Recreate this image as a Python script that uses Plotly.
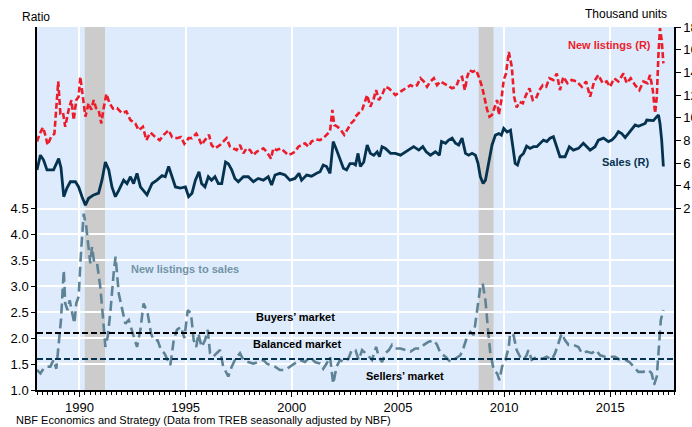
import plotly.graph_objects as go

# ---------------- data ----------------
sales_x = [1988.00, 1988.16, 1988.31, 1988.47, 1988.78, 1989.02, 1989.13, 1989.26, 1989.41, 1989.57,
           1989.81, 1989.96, 1990.12, 1990.28, 1990.43, 1990.67, 1990.90, 1991.06, 1991.22, 1991.38,
           1991.53, 1991.69, 1991.85, 1992.08, 1992.24, 1992.40, 1992.55, 1992.71, 1992.87, 1993.02,
           1993.18, 1993.42, 1993.65, 1993.89, 1994.04, 1994.20, 1994.36, 1994.52, 1994.75, 1994.99,
           1995.14, 1995.30, 1995.46, 1995.63, 1995.75, 1995.91, 1996.07, 1996.22, 1996.38, 1996.54,
           1996.70, 1996.88, 1997.01, 1997.17, 1997.32, 1997.48, 1997.72, 1997.95, 1998.19, 1998.42,
           1998.66, 1998.89, 1999.05, 1999.21, 1999.44, 1999.68, 1999.91, 2000.15, 2000.34, 2000.46,
           2000.70, 2000.93, 2001.17, 2001.33, 2001.48, 2001.64, 2001.80, 2001.95, 2002.11, 2002.27,
           2002.43, 2002.58, 2002.74, 2002.90, 2003.00, 2003.12, 2003.23, 2003.39, 2003.55, 2003.70,
           2003.86, 2004.02, 2004.13, 2004.25, 2004.41, 2004.65, 2004.88, 2005.12, 2005.35, 2005.59,
           2005.74, 2005.98, 2006.17, 2006.33, 2006.53, 2006.76, 2006.95, 2007.05, 2007.24, 2007.39,
           2007.55, 2007.71, 2007.86, 2008.02, 2008.18, 2008.33, 2008.49, 2008.65, 2008.77, 2008.88,
           2009.01, 2009.12, 2009.28, 2009.43, 2009.59, 2009.75, 2009.87, 2009.98, 2010.14, 2010.30,
           2010.41, 2010.52, 2010.63, 2010.75, 2010.91, 2011.06, 2011.22, 2011.38, 2011.54, 2011.69,
           2011.85, 2012.01, 2012.16, 2012.32, 2012.48, 2012.63, 2012.87, 2013.07, 2013.26, 2013.50,
           2013.73, 2013.89, 2014.05, 2014.28, 2014.44, 2014.68, 2014.91, 2015.07, 2015.23, 2015.38,
           2015.54, 2015.70, 2015.85, 2016.01, 2016.17, 2016.32, 2016.48, 2016.64, 2016.72, 2016.87,
           2017.03, 2017.19, 2017.27, 2017.34, 2017.42, 2017.50]
sales_y = [5.4, 6.7, 6.27, 5.4, 5.4, 6.4, 5.6, 3.04, 3.8, 4.36,
           4.36, 3.9, 3.04, 2.3, 2.9, 3.2, 3.35, 4.5, 6.1, 5.4,
           3.9, 3.04, 3.6, 4.5, 4.2, 4.8, 4.2, 5.1, 3.9, 3.6,
           3.2, 4.2, 4.5, 4.9, 4.8, 5.7, 4.8, 3.9, 3.8, 3.9,
           3.04, 3.35, 4.5, 5.24, 4.2, 3.9, 4.8, 4.5, 4.8, 4.2,
           4.2, 6.1, 5.95, 5.4, 4.65, 4.36, 4.8, 4.8, 4.36, 4.65,
           4.5, 4.8, 4.07, 4.95, 5.1, 4.95, 4.5, 4.65, 5.1, 4.5,
           4.95, 4.85, 5.1, 5.24, 5.83, 5.7, 5.1, 7.9, 7.15, 6.27,
           5.55, 5.4, 5.95, 5.95, 5.83, 6.86, 5.7, 6.1, 7.6, 6.86,
           6.7, 7.0, 6.56, 7.45, 7.3, 6.86, 6.86, 6.7, 7.0, 7.3,
           7.45, 7.15, 7.45, 7.0, 6.7, 7.0, 6.7, 7.9, 7.75, 8.03,
           8.2, 7.75, 7.6, 8.2, 6.86, 6.7, 6.86, 6.7, 5.98, 4.8,
           4.2, 4.5, 5.98, 7.6, 8.47, 8.6, 8.47, 9.06, 8.75, 8.9,
           7.45, 5.98, 5.83, 6.56, 6.86, 7.5, 7.3, 7.45, 7.45, 7.75,
           8.03, 7.9, 8.2, 8.33, 7.45, 6.56, 6.56, 7.45, 7.15, 7.3,
           7.75, 7.45, 7.15, 7.45, 8.03, 8.2, 7.9, 8.03, 8.33, 8.77,
           8.6, 8.25, 8.6, 8.9, 9.36, 9.25, 9.36, 9.5, 9.8, 9.8,
           9.75, 10.1, 10.25, 9.5, 8.03, 5.7]

listings_x = [1988.00, 1988.13, 1988.28, 1988.39, 1988.50, 1988.66, 1988.82, 1988.91, 1989.00, 1989.10,
              1989.22, 1989.33, 1989.49, 1989.62, 1989.73, 1989.85, 1989.96, 1990.04, 1990.17, 1990.28,
              1990.43, 1990.56, 1990.67, 1990.78, 1990.90, 1991.03, 1991.14, 1991.27, 1991.42, 1991.58,
              1991.77, 1992.00, 1992.21, 1992.40, 1992.63, 1992.79, 1992.99, 1993.15, 1993.34, 1993.57,
              1993.78, 1993.97, 1994.20, 1994.36, 1994.59, 1994.78, 1994.94, 1995.14, 1995.30, 1995.50,
              1995.60, 1995.75, 1995.91, 1996.10, 1996.22, 1996.38, 1996.62, 1996.77, 1996.93, 1997.09,
              1997.25, 1997.40, 1997.56, 1997.72, 1997.87, 1998.03, 1998.19, 1998.34, 1998.50, 1998.66,
              1998.82, 1999.02, 1999.13, 1999.29, 1999.49, 1999.68, 1999.84, 2000.02, 2000.15, 2000.31,
              2000.46, 2000.62, 2000.78, 2000.93, 2001.12, 2001.33, 2001.48, 2001.64, 2001.80, 2001.91,
              2002.00, 2002.16, 2002.32, 2002.47, 2002.63, 2002.79, 2002.94, 2003.00, 2003.15, 2003.31,
              2003.47, 2003.55, 2003.70, 2003.86, 2003.97, 2004.10, 2004.25, 2004.41, 2004.57, 2004.72,
              2004.88, 2005.12, 2005.35, 2005.59, 2005.74, 2005.90, 2006.06, 2006.22, 2006.37, 2006.53,
              2006.69, 2006.84, 2007.00, 2007.16, 2007.31, 2007.55, 2007.74, 2007.89, 2008.02, 2008.15,
              2008.26, 2008.37, 2008.52, 2008.68, 2008.81, 2008.96, 2009.09, 2009.20, 2009.31, 2009.43,
              2009.56, 2009.67, 2009.75, 2009.87, 2009.98, 2010.09, 2010.22, 2010.36, 2010.47, 2010.59,
              2010.72, 2010.88, 2011.03, 2011.19, 2011.35, 2011.50, 2011.66, 2011.82, 2011.98, 2012.13,
              2012.32, 2012.48, 2012.63, 2012.79, 2012.98, 2013.18, 2013.42, 2013.66, 2013.86, 2014.05,
              2014.24, 2014.44, 2014.64, 2014.83, 2014.99, 2015.18, 2015.38, 2015.62, 2015.77, 2015.96,
              2016.17, 2016.37, 2016.56, 2016.75, 2016.87, 2017.00, 2017.11, 2017.19, 2017.27, 2017.34,
              2017.42, 2017.50]
listings_y = [7.9, 8.6, 9.15, 8.5, 7.6, 8.3, 8.6, 10.7, 13.2, 10.4,
              10.5, 9.2, 10.7, 11.56, 9.8, 11.56, 11.85, 13.6, 11.56, 10.1,
              11.27, 10.7, 11.56, 10.85, 10.7, 9.5, 10.85, 12.1, 11.27, 10.8,
              10.85, 10.4, 10.55, 9.8, 9.5, 8.9, 9.2, 8.03, 8.7, 8.3,
              8.03, 8.5, 8.9, 8.3, 8.2, 8.3, 7.7, 8.2, 8.2, 8.6,
              8.3, 7.6, 8.03, 8.5, 7.6, 7.3, 7.6, 7.9, 8.2, 7.45,
              7.3, 7.15, 7.6, 6.86, 7.3, 7.15, 6.7, 7.0, 7.15, 7.3,
              7.0, 6.4, 7.3, 7.15, 7.3, 7.0, 6.7, 6.86, 7.0, 7.45,
              7.6, 7.75, 7.45, 7.9, 8.1, 8.03, 8.2, 8.5, 8.8, 10.7,
              9.36, 9.2, 8.9, 8.5, 9.06, 9.5, 9.8, 10.1, 10.4, 10.7,
              11.56, 12.0, 10.97, 11.7, 12.44, 11.56, 12.0, 12.73, 12.6, 12.3,
              12.0, 12.3, 12.6, 12.87, 12.73, 12.87, 13.48, 13.2, 12.73, 13.2,
              13.48, 12.87, 13.2, 13.05, 12.87, 12.6, 12.73, 13.48, 13.6, 12.44,
              13.6, 14.2, 14.05, 14.2, 13.6, 12.73, 11.56, 10.7, 10.1, 10.25,
              10.97, 11.56, 10.25, 11.56, 13.33, 13.9, 15.8, 14.5, 11.85, 10.9,
              11.4, 11.27, 12.0, 12.6, 11.56, 11.7, 12.44, 12.87, 12.73, 13.48,
              13.33, 13.9, 12.44, 13.6, 13.05, 13.33, 13.2, 12.73, 13.2, 11.85,
              13.2, 13.77, 13.05, 13.2, 12.73, 13.48, 13.2, 13.9, 13.05, 13.48,
              12.87, 12.44, 13.2, 13.05, 13.77, 12.44, 10.4, 11.85, 15.7, 17.9,
              16.85, 14.8]

ratio_x = [1988.00, 1988.16, 1988.31, 1988.47, 1988.63, 1988.78, 1988.91, 1989.02, 1989.13, 1989.26,
           1989.33, 1989.44, 1989.54, 1989.65, 1989.76, 1989.85, 1989.96, 1990.07, 1990.20, 1990.32,
           1990.43, 1990.51, 1990.59, 1990.70, 1990.83, 1990.98, 1991.09, 1991.22, 1991.33, 1991.45,
           1991.61, 1991.70, 1991.85, 1992.00, 1992.16, 1992.32, 1992.47, 1992.71, 1992.87, 1993.02,
           1993.21, 1993.37, 1993.49, 1993.68, 1993.84, 1994.00, 1994.15, 1994.28, 1994.44, 1994.59,
           1994.78, 1994.94, 1995.10, 1995.25, 1995.38, 1995.50, 1995.60, 1995.75, 1995.91, 1996.04,
           1996.15, 1996.30, 1996.46, 1996.62, 1996.77, 1997.01, 1997.17, 1997.32, 1997.56, 1997.72,
           1997.95, 1998.19, 1998.42, 1998.66, 1998.82, 1998.97, 1999.21, 1999.44, 1999.68, 1999.91,
           2000.15, 2000.38, 2000.62, 2000.86, 2001.09, 2001.33, 2001.48, 2001.64, 2001.80, 2001.95,
           2002.11, 2002.27, 2002.43, 2002.66, 2002.82, 2003.00, 2003.15, 2003.31, 2003.47, 2003.62,
           2003.78, 2003.97, 2004.10, 2004.25, 2004.41, 2004.57, 2004.72, 2004.88, 2005.12, 2005.35,
           2005.59, 2005.82, 2006.06, 2006.22, 2006.45, 2006.69, 2006.84, 2007.00, 2007.24, 2007.47,
           2007.71, 2007.94, 2008.10, 2008.26, 2008.41, 2008.57, 2008.73, 2008.88, 2008.99, 2009.12,
           2009.24, 2009.35, 2009.51, 2009.67, 2009.78, 2009.90, 2010.06, 2010.22, 2010.28, 2010.44,
           2010.59, 2010.75, 2010.91, 2011.06, 2011.14, 2011.30, 2011.54, 2011.77, 2012.01, 2012.24,
           2012.40, 2012.56, 2012.71, 2012.87, 2013.03, 2013.26, 2013.50, 2013.66, 2013.89, 2014.13,
           2014.33, 2014.52, 2014.75, 2014.99, 2015.23, 2015.46, 2015.70, 2015.90, 2016.09, 2016.32,
           2016.56, 2016.80, 2016.95, 2017.06, 2017.19, 2017.30, 2017.38, 2017.50]
ratio_y = [1.385, 1.32, 1.41, 1.45, 1.45, 1.58, 1.41, 1.9, 2.35, 3.31,
           2.67, 2.54, 2.73, 2.5, 2.28, 2.67, 2.8, 3.63, 4.4, 4.15,
           3.76, 3.44, 3.76, 3.44, 3.44, 2.99, 2.48, 1.83, 2.03, 2.48,
           3.25, 3.57, 2.86, 2.6, 2.28, 2.35, 2.16, 1.83, 2.16, 2.67,
           2.48, 2.09, 1.96, 1.96, 1.77, 1.71, 1.58, 1.48, 1.96, 2.16,
           2.22, 2.0, 2.54, 2.48, 1.96, 1.83, 2.09, 1.83, 1.96, 2.16,
           1.71, 1.64, 1.71, 1.77, 1.45, 1.26, 1.45, 1.58, 1.71, 1.58,
           1.54, 1.51, 1.54, 1.58, 1.51, 1.48, 1.45, 1.385, 1.385, 1.45,
           1.51, 1.58, 1.54, 1.64, 1.54, 1.51, 1.41, 1.51, 1.64, 1.12,
           1.45, 1.58, 1.54, 1.6, 1.77, 1.77, 1.58, 1.77, 1.71, 1.64,
           1.58, 1.83, 1.64, 1.54, 1.71, 1.77, 1.87, 1.8, 1.8, 1.77,
           1.74, 1.8, 1.8, 1.87, 1.93, 1.96, 1.87, 1.71, 1.64, 1.54,
           1.6, 1.67, 1.83, 2.03, 2.12, 2.06, 2.54, 2.99, 3.05, 2.73,
           2.16, 1.71, 1.385, 1.32, 1.19, 1.45, 1.58, 1.83, 2.09, 2.06,
           1.77, 1.64, 1.58, 1.67, 1.77, 1.58, 1.64, 1.6, 1.64, 1.58,
           1.71, 1.9, 2.09, 1.96, 1.87, 1.87, 1.83, 1.71, 1.74, 1.71,
           1.77, 1.67, 1.64, 1.64, 1.64, 1.58, 1.58, 1.54, 1.45, 1.35,
           1.35, 1.385, 1.32, 1.1, 1.26, 1.96, 2.35, 2.54]

recessions = [(1990.25, 1991.2), (2008.8, 2009.5)]
buyers_level = 2.1
sellers_level = 1.6

left_ticks = [1.0, 1.5, 2.0, 2.5, 3.0, 3.5, 4.0, 4.5]
right_ticks = [2, 4, 6, 8, 10, 12, 14, 16, 18]
year_ticks = [1990, 1995, 2000, 2005, 2010, 2015]

# ---------------- styles ----------------
FONT = "Liberation Sans, Arial, sans-serif"
RED = "#EC1C2A"
NAVY = "#05334F"
SLATE = "#5F8396"
BG = "#DDEBFC"

fig = go.Figure()

fig.add_trace(go.Scatter(x=listings_x, y=listings_y, yaxis="y2", mode="lines",
                         line=dict(color=RED, width=2.6, dash="6px,3px"), name="New listings (R)"))
fig.add_trace(go.Scatter(x=sales_x, y=sales_y, yaxis="y2", mode="lines",
                         line=dict(color=NAVY, width=2.8), name="Sales (R)"))
fig.add_trace(go.Scatter(x=ratio_x, y=ratio_y, yaxis="y", mode="lines",
                         line=dict(color=SLATE, width=2.6, dash="10px,5px"), name="New listings to sales"))

shapes = []
for x0, x1 in recessions:
    shapes.append(dict(type="rect", xref="x", yref="paper", x0=x0, x1=x1, y0=0, y1=1,
                       fillcolor="#CCCCCC", line=dict(width=0), layer="between"))
shapes.append(dict(type="line", xref="paper", yref="y", x0=0, x1=1, y0=buyers_level, y1=buyers_level,
                   line=dict(color="black", width=2, dash="6px,3px"), layer="above"))
shapes.append(dict(type="line", xref="paper", yref="y", x0=0, x1=1, y0=sellers_level, y1=sellers_level,
                   line=dict(color=NAVY, width=2, dash="6px,3px"), layer="above"))

annotations = [
    dict(text="Ratio", xref="paper", yref="paper", x=-0.027, y=1.028, xanchor="left", yanchor="middle",
         showarrow=False, font=dict(size=12, color="black")),
    dict(text="Thousand units", xref="paper", yref="paper", x=0.9925, y=1.036, xanchor="right", yanchor="middle",
         showarrow=False, font=dict(size=12, color="black")),
    dict(text="<b>New listings (R)</b>", x=2012.9, y=16.4, xref="x", yref="y2", xanchor="left",
         showarrow=False, font=dict(size=11, color=RED)),
    dict(text="<b>Sales (R)</b>", x=2014.5, y=6.1, xref="x", yref="y2", xanchor="left",
         showarrow=False, font=dict(size=11, color=NAVY)),
    dict(text="<b>New listings to sales</b>", x=1992.33, y=3.33, xref="x", yref="y", xanchor="left",
         showarrow=False, font=dict(size=11, color="#7393A6")),
    dict(text="<b>Buyers’ market</b>", x=1998.2, y=2.41, xref="x", yref="y", xanchor="left",
         showarrow=False, font=dict(size=11, color="black")),
    dict(text="<b>Balanced market</b>", x=1998.1, y=1.89, xref="x", yref="y", xanchor="left",
         showarrow=False, font=dict(size=11, color="black")),
    dict(text="<b>Sellers’ market</b>", x=2003.4, y=1.27, xref="x", yref="y", xanchor="left",
         showarrow=False, font=dict(size=11, color="black")),
    dict(text="NBF Economics and Strategy (Data from TREB seasonally adjusted by NBF)",
         xref="paper", yref="paper", x=-0.036, y=-0.083, xanchor="left", yanchor="middle",
         showarrow=False, font=dict(size=11, color="black")),
]

fig.update_layout(
    width=692, height=427,
    margin=dict(l=37, r=18, t=27, b=37, autoexpand=False),
    paper_bgcolor="white", plot_bgcolor=BG,
    font=dict(family=FONT, size=13, color="black"),
    showlegend=False,
    shapes=shapes, annotations=annotations,
    xaxis=dict(range=[1988, 2018], tickvals=year_ticks, ticktext=[str(v) for v in year_ticks],
               showgrid=True, gridcolor="white", gridwidth=1.5, zeroline=False, automargin=False,
               showline=True, linecolor="black", linewidth=1.5,
               ticks="outside", ticklen=5, tickcolor="black",
               minor=dict(dtick=0.25, tick0=1988, ticks="outside", ticklen=3, tickcolor="black", showgrid=False),
               tickfont=dict(size=13)),
    yaxis=dict(range=[1, 8], tickvals=left_ticks, ticktext=[f"{v:.1f}" for v in left_ticks],
               showgrid=True, gridcolor="white", gridwidth=1.5, zeroline=False, automargin=False,
               showline=True, linecolor="black", linewidth=1.5,
               ticks="outside", ticklen=4, tickcolor="black", tickfont=dict(size=13)),
    yaxis2=dict(range=[-14, 18], tickvals=right_ticks, overlaying="y", side="right",
                showgrid=False, zeroline=False, automargin=False,
                showline=True, linecolor="black", linewidth=1.5,
                ticks="outside", ticklen=5, tickcolor="black", tickfont=dict(size=13)),
)

fig.write_html("out.html", config={"displayModeBar": False},
               post_script="document.body.style.margin='0';document.body.style.overflow='hidden';")
